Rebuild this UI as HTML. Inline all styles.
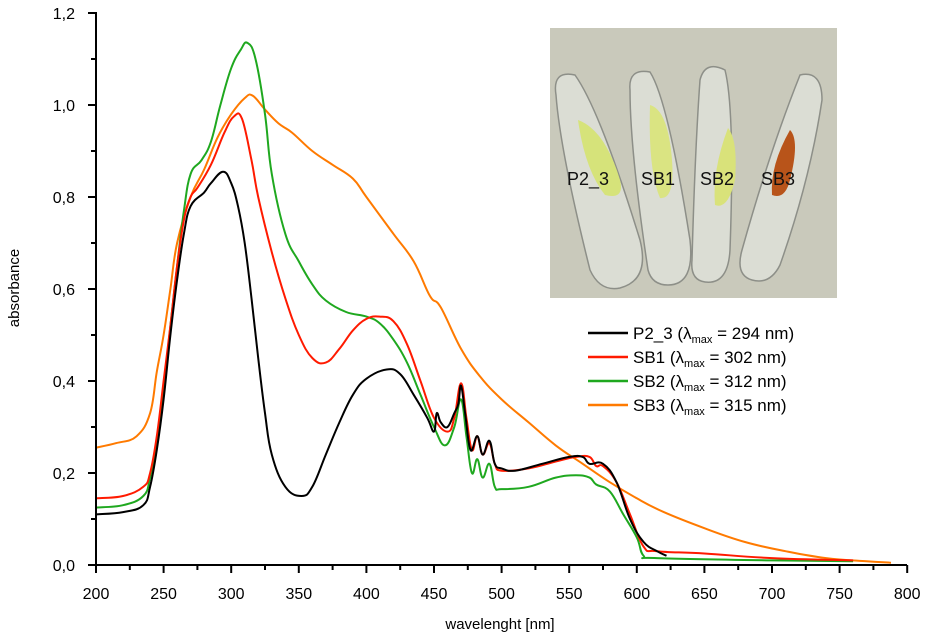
<!DOCTYPE html>
<html><head><meta charset="utf-8"><style>
body{margin:0;background:#fff;}
svg{display:block;font-family:"Liberation Sans",Arial,sans-serif;}
</style></head><body>
<svg id="c" width="925" height="638" viewBox="0 0 925 638">
<g id="photo">
<rect x="550" y="28" width="287" height="270" fill="#c9c9bb"/>
<g fill="#dcdfd6" stroke="#8a8c86" stroke-width="1.5" opacity="0.95">
<path d="M556,95 Q552,70 575,75 Q600,110 640,240 Q650,280 620,288 Q600,292 590,270 Q560,150 556,95Z"/>
<path d="M630,90 Q628,68 650,72 Q668,100 690,240 Q695,285 668,285 Q652,285 648,270 Q630,150 630,90Z"/>
<path d="M700,80 Q705,60 725,70 Q735,110 730,250 Q728,285 705,282 Q690,280 692,260 Q695,150 700,80Z"/>
<path d="M800,75 Q822,70 822,100 Q810,180 780,265 Q770,285 752,280 Q735,275 742,250 Q770,150 800,75Z"/>
</g>
<path d="M578,120 Q605,130 620,180 Q625,200 605,195 Q585,170 578,120Z" fill="#d6e37a"/>
<path d="M650,105 Q668,110 672,160 Q675,200 660,198 Q648,170 650,105Z" fill="#dae482"/>
<path d="M728,128 Q738,140 735,180 Q728,210 715,205 Q712,170 728,128Z" fill="#d9e27a"/>
<path d="M790,130 Q800,140 790,180 Q785,200 772,195 Q770,165 790,130Z" fill="#b8541a"/>
<g font-size="18" fill="#111">
<text x="567" y="185">P2_3</text>
<text x="641" y="185">SB1</text>
<text x="700" y="185">SB2</text>
<text x="761" y="185">SB3</text>
</g>
</g>
<g id="series"></g>
<g id="axes"></g>
<g id="legend" font-size="16" fill="#000"></g>
<text x="500" y="629" text-anchor="middle" font-size="15">wavelenght [nm]</text>
<text transform="translate(19,288) rotate(-90)" text-anchor="middle" font-size="15">absorbance</text>
</svg>
<script>
const xTicks=[200,250,300,350,400,450,500,550,600,650,700,750,800];
const yTicks=[0,0.2,0.4,0.6,0.8,1.0,1.2];
const yTickLabels=["0,0","0,2","0,4","0,6","0,8","1,0","1,2"];
const seriesNames=["P2_3","SB1","SB2","SB3"];
const seriesColors=["#000000","#ff1a00","#1fa81f","#ff7a00"];
const legendLabels=[["P2_3 (λ","max"," = 294 nm)"],["SB1 (λ","max"," = 302 nm)"],["SB2 (λ","max"," = 312 nm)"],["SB3 (λ","max"," = 315 nm)"]];
const p23W=[200,220,235,240,245,250,255,260,265,270,280,285,294,300,305,310,315,320,325,330,340,352,360,370,380,390,400,415,425,435,445,450,452,455,460,465,468,470,473,477,482,486,491,495,500,510,530,550,560,565,575,585,595,605,615,622];
const p23A=[0.11,0.115,0.13,0.17,0.25,0.36,0.5,0.62,0.72,0.78,0.81,0.83,0.855,0.83,0.78,0.7,0.58,0.45,0.33,0.24,0.17,0.15,0.17,0.24,0.31,0.37,0.405,0.425,0.415,0.37,0.32,0.29,0.33,0.31,0.3,0.33,0.35,0.39,0.33,0.25,0.28,0.24,0.27,0.22,0.21,0.205,0.22,0.235,0.235,0.22,0.22,0.18,0.1,0.05,0.03,0.02];
const sb1W=[200,220,235,240,245,250,255,260,265,270,275,285,295,302,308,315,320,330,340,350,360,370,380,390,400,410,420,430,440,450,460,465,470,474,478,482,486,491,495,500,520,540,555,565,570,575,585,595,605,615,650,700,760];
const sb1A=[0.145,0.15,0.17,0.2,0.28,0.4,0.52,0.65,0.75,0.8,0.82,0.87,0.94,0.975,0.97,0.88,0.8,0.68,0.58,0.5,0.45,0.44,0.47,0.51,0.535,0.54,0.53,0.48,0.4,0.32,0.29,0.32,0.395,0.32,0.25,0.28,0.24,0.265,0.22,0.205,0.21,0.225,0.235,0.235,0.215,0.215,0.18,0.11,0.04,0.03,0.025,0.015,0.01];
const sb2W=[200,220,235,240,245,250,255,260,265,270,278,285,292,300,307,312,318,325,330,340,350,360,370,385,400,410,420,430,440,450,458,465,470,474,478,482,486,491,495,500,520,540,555,565,570,580,590,600,605,615,700,760];
const sb2A=[0.125,0.13,0.15,0.19,0.27,0.38,0.52,0.65,0.77,0.85,0.88,0.92,1.0,1.08,1.12,1.135,1.1,0.98,0.85,0.72,0.66,0.61,0.575,0.55,0.54,0.525,0.49,0.44,0.37,0.3,0.26,0.3,0.36,0.28,0.2,0.23,0.19,0.22,0.17,0.165,0.17,0.19,0.195,0.19,0.175,0.16,0.11,0.06,0.02,0.015,0.01,0.008];
const sb3W=[200,215,230,240,245,250,255,260,270,280,290,300,310,316,325,335,345,360,375,390,400,420,435,447,455,470,484,500,520,540,560,580,600,620,650,680,710,740,770,788];
const sb3A=[0.255,0.265,0.28,0.33,0.42,0.5,0.6,0.7,0.8,0.86,0.93,0.98,1.015,1.02,0.99,0.96,0.94,0.9,0.87,0.84,0.8,0.72,0.66,0.585,0.56,0.47,0.41,0.36,0.31,0.26,0.22,0.18,0.145,0.115,0.08,0.05,0.03,0.015,0.008,0.005];
const seriesW=[p23W,sb1W,sb2W,sb3W];
const seriesA=[p23A,sb1A,sb2A,sb3A];
const X=w=>96+(w-200)*1.352;
const Y=a=>565-a*460;
const NS="http://www.w3.org/2000/svg";
function mk(t,a,p){const e=document.createElementNS(NS,t);for(const k in a)e.setAttribute(k,a[k]);p.appendChild(e);return e;}
function smooth(pts){
 let d='M'+pts[0][0].toFixed(1)+','+pts[0][1].toFixed(1);
 for(let i=0;i<pts.length-1;i++){
  const p0=pts[Math.max(0,i-1)],p1=pts[i],p2=pts[i+1],p3=pts[Math.min(pts.length-1,i+2)];
  const t=0.2;
  const c1=[p1[0]+(p2[0]-p0[0])*t,p1[1]+(p2[1]-p0[1])*t];
  const c2=[p2[0]-(p3[0]-p1[0])*t,p2[1]-(p3[1]-p1[1])*t];
  d+='C'+c1[0].toFixed(1)+','+c1[1].toFixed(1)+' '+c2[0].toFixed(1)+','+c2[1].toFixed(1)+' '+p2[0].toFixed(1)+','+p2[1].toFixed(1);
 }
 return d;
}
const S=document.getElementById('series');
for(let i=3;i>=0;i--){
 const pts=seriesW[i].map((w,j)=>[X(w),Y(seriesA[i][j])]);
 const p=mk('path',{d:smooth(pts),fill:'none',stroke:seriesColors[i],'stroke-width':2,'stroke-linejoin':'round'},S);
 
 
}
const A=document.getElementById('axes');
mk('line',{x1:96,y1:565,x2:907,y2:565,stroke:'#000','stroke-width':2},A);
mk('line',{x1:96,y1:12,x2:96,y2:565,stroke:'#000','stroke-width':2},A);
for(let k=0;k<xTicks.length;k++){
 const x=X(xTicks[k]);
 mk('line',{x1:x,y1:565,x2:x,y2:573,stroke:'#000','stroke-width':2},A);
 if(k<xTicks.length-1){const xm=X(xTicks[k]+25);mk('line',{x1:xm,y1:565,x2:xm,y2:570,stroke:'#000','stroke-width':2},A);}
 const t=mk('text',{x:x,y:599,'text-anchor':'middle','font-size':16},A);t.textContent=xTicks[k];
 
 
}
for(let k=0;k<yTicks.length;k++){
 const y=Y(yTicks[k]);
 mk('line',{x1:88,y1:y,x2:96,y2:y,stroke:'#000','stroke-width':2},A);
 if(k<yTicks.length-1){const ym=Y(yTicks[k]+0.1);mk('line',{x1:91,y1:ym,x2:96,y2:ym,stroke:'#000','stroke-width':2},A);}
 const t=mk('text',{x:75,y:y+6,'text-anchor':'end','font-size':16},A);t.textContent=yTickLabels[k];
 
 
}
const L=document.getElementById('legend');
for(let i=0;i<4;i++){
 const y=333+i*24;
 const g=mk('g',{},L);
 
 
 mk('line',{x1:588,y1:y,x2:628,y2:y,stroke:seriesColors[i],'stroke-width':2.5},g);
 const t=mk('text',{x:633,y:y+6,'font-size':17},g);
 const a=mk('tspan',{},t);a.textContent=legendLabels[i][0];
 const b=mk('tspan',{'font-size':11,dy:4},t);b.textContent=legendLabels[i][1];
 const c=mk('tspan',{dy:-4},t);c.textContent=legendLabels[i][2];
}
</script>
</body></html>
